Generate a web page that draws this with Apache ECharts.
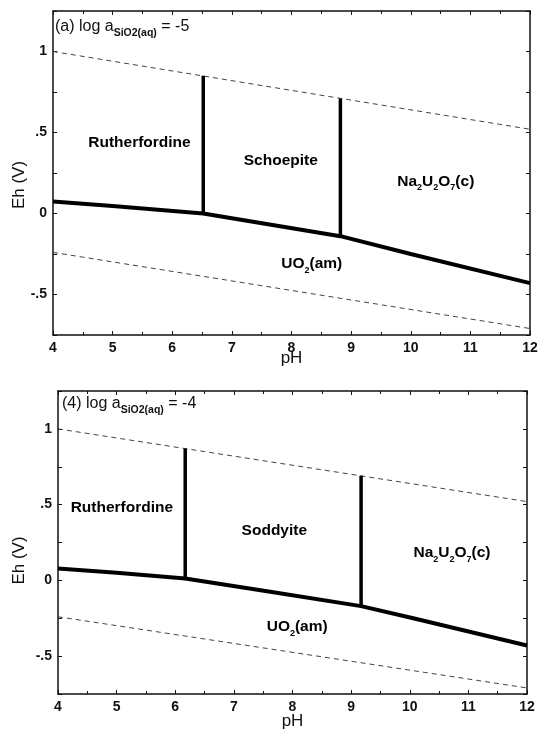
<!DOCTYPE html>
<html>
<head>
<meta charset="utf-8">
<script src="https://cdn.jsdelivr.net/npm/echarts@6/dist/echarts.min.js"></script>
<style>
  html, body { margin: 0; padding: 0; background: #fff; }
  #chart { width: 538px; height: 732px; }
</style>
</head>
<body>
<div id="chart"></div>
<script>
// axis ranges
var pHMin = 4, pHMax = 12;
var ehMin = -0.75, ehMax = 1.25;

// water stability limits (same in both panels)
var o2Line = [[4, 1.0], [12, 0.52]];
var h2Line = [[4, -0.24], [12, -0.71]];

// panel (a) log aSiO2 = -5
var uo2BoundA = [[4, 0.074], [5, 0.047], [6.52, 0.0], [8.82, -0.14], [10, -0.25], [12, -0.43]];
var vertA1 = [[6.52, 0.0], [6.52, 0.85]];
var vertA2 = [[8.82, -0.14], [8.82, 0.71]];
var labelsA = [
  ['{n|Rutherfordine}', 5.45, 0.425],
  ['{n|Schoepite}', 7.82, 0.315],
  ['{n|Na}{s|2}{n|U}{s|2}{n|O}{s|7}{n|(c)}', 10.42, 0.19],
  ['{n|UO}{s|2}{n|(am)}', 8.34, -0.32]
];

// panel (4) log aSiO2 = -4
var uo2BoundB = [[4, 0.079], [5, 0.05], [6.17, 0.013], [7.62, -0.075], [9.17, -0.17], [10.06, -0.25], [12, -0.43]];
var vertB1 = [[6.17, 0.013], [6.17, 0.87]];
var vertB2 = [[9.17, -0.17], [9.17, 0.69]];
var labelsB = [
  ['{n|Rutherfordine}', 5.09, 0.467],
  ['{n|Soddyite}', 7.69, 0.316],
  ['{n|Na}{s|2}{n|U}{s|2}{n|O}{s|7}{n|(c)}', 10.72, 0.17],
  ['{n|UO}{s|2}{n|(am)}', 8.08, -0.316]
];

var FONT = 'Liberation Sans';
var chart = echarts.init(document.getElementById('chart'), null, { renderer: 'canvas' });

function yFmt(v) {
  if (Math.abs(v * 2 - Math.round(v * 2)) > 1e-6) return '';
  return String(Math.round(v * 100) / 100).replace('0.', '.');
}

function xAx(grid, pos, showLabel, gap) {
  return {
    type: 'value', gridIndex: grid, position: pos, min: pHMin, max: pHMax, interval: 1,
    name: showLabel ? 'pH' : '', nameLocation: 'middle', nameGap: gap || 0, nameMoveOverlap: false,
    nameTextStyle: { fontFamily: FONT, fontSize: 17, color: '#111' },
    axisLine: { show: true, onZero: false, lineStyle: { color: '#111', width: 1.5 } },
    axisTick: { show: true, inside: true, length: 4, lineStyle: { color: '#111' } },
    minorTick: { show: true, splitNumber: 2, length: 3, lineStyle: { color: '#111' } },
    axisLabel: { show: showLabel, margin: 6, fontFamily: FONT, fontSize: 14, fontWeight: 'bold', color: '#111' },
    splitLine: { show: false }
  };
}
function yAx(grid, pos, showLabel, gap, shift) {
  return {
    type: 'value', gridIndex: grid, position: pos, min: ehMin, max: ehMax, interval: 0.25,
    name: showLabel ? 'Eh (V)' : '', nameLocation: 'middle', nameGap: gap || 0, nameMoveOverlap: false,
    nameTextStyle: { fontFamily: FONT, fontSize: 17, color: '#111', padding: [0, shift || 0, 0, 0] },
    axisLine: { show: true, onZero: false, lineStyle: { color: '#111', width: 1.5 } },
    axisTick: { show: true, inside: true, length: 4, lineStyle: { color: '#111' } },
    axisLabel: { show: showLabel, margin: 6, formatter: yFmt, fontFamily: FONT, fontSize: 14, fontWeight: 'bold', color: '#111' },
    splitLine: { show: false }
  };
}

var labelRich = {
  n: { fontFamily: FONT, fontSize: 15.5, fontWeight: 'bold', fill: '#000', verticalAlign: 'bottom', padding: [0, 0, 3, 0] },
  s: { fontFamily: FONT, fontSize: 9, fontWeight: 'bold', fill: '#000', verticalAlign: 'bottom' }
};

function lineS(grid, data, width, dashed) {
  return {
    type: 'line', xAxisIndex: grid * 2, yAxisIndex: grid * 2, data: data,
    symbol: 'none', silent: true, animation: false,
    lineStyle: { color: dashed ? '#444' : '#000', width: width, type: dashed ? [5, 4] : 'solid' }
  };
}
function labelS(grid, labels) {
  return {
    type: 'custom', xAxisIndex: grid * 2, yAxisIndex: grid * 2, silent: true, animation: false,
    data: labels.map(function (l) { return [l[1], l[2]]; }),
    renderItem: function (params, api) {
      var p = api.coord([api.value(0), api.value(1)]);
      return {
        type: 'text', x: p[0], y: p[1],
        style: {
          text: labels[params.dataIndex][0], rich: labelRich,
          align: 'center', verticalAlign: 'middle', fill: '#000',
          fontFamily: FONT, fontSize: 15.5, fontWeight: 'bold'
        }
      };
    }
  };
}

function titleRich(prefix, val) {
  return '{n|' + prefix + ' log a}{s|SiO2(aq)}{n| = ' + val + '}';
}
var titleRichStyle = {
  n: { fontFamily: FONT, fontSize: 16, fontWeight: 'normal', color: '#111', verticalAlign: 'bottom', padding: [0, 0, 4, 0] },
  s: { fontFamily: FONT, fontSize: 10.5, fontWeight: 'bold', color: '#111', verticalAlign: 'bottom' }
};

chart.setOption({
  backgroundColor: '#fff',
  animation: false,
  title: [
    { text: titleRich('(a)', '-5'), left: 55, top: 19, padding: 0, textStyle: { fontWeight: 'normal', rich: titleRichStyle } },
    { text: titleRich('(4)', '-4'), left: 62, top: 396, padding: 0, textStyle: { fontWeight: 'normal', rich: titleRichStyle } }
  ],
  grid: [
    { left: 53, right: 8, top: 11, height: 324, outerBoundsMode: 'none' },
    { left: 58, right: 11, top: 391, height: 303, outerBoundsMode: 'none' }
  ],
  xAxis: [xAx(0, 'bottom', true, 15), xAx(0, 'top', false), xAx(1, 'bottom', true, 19), xAx(1, 'top', false)],
  yAxis: [yAx(0, 'left', true, 25, 24), yAx(0, 'right', false), yAx(1, 'left', true, 30, 36), yAx(1, 'right', false)],
  series: [
    lineS(0, o2Line, 1, true),
    lineS(0, h2Line, 1, true),
    lineS(0, uo2BoundA, 4, false),
    lineS(0, vertA1, 3.5, false),
    lineS(0, vertA2, 3.5, false),
    labelS(0, labelsA),
    lineS(1, o2Line, 1, true),
    lineS(1, h2Line, 1, true),
    lineS(1, uo2BoundB, 4, false),
    lineS(1, vertB1, 3.5, false),
    lineS(1, vertB2, 3.5, false),
    labelS(1, labelsB)
  ]
});
</script>
</body>
</html>
